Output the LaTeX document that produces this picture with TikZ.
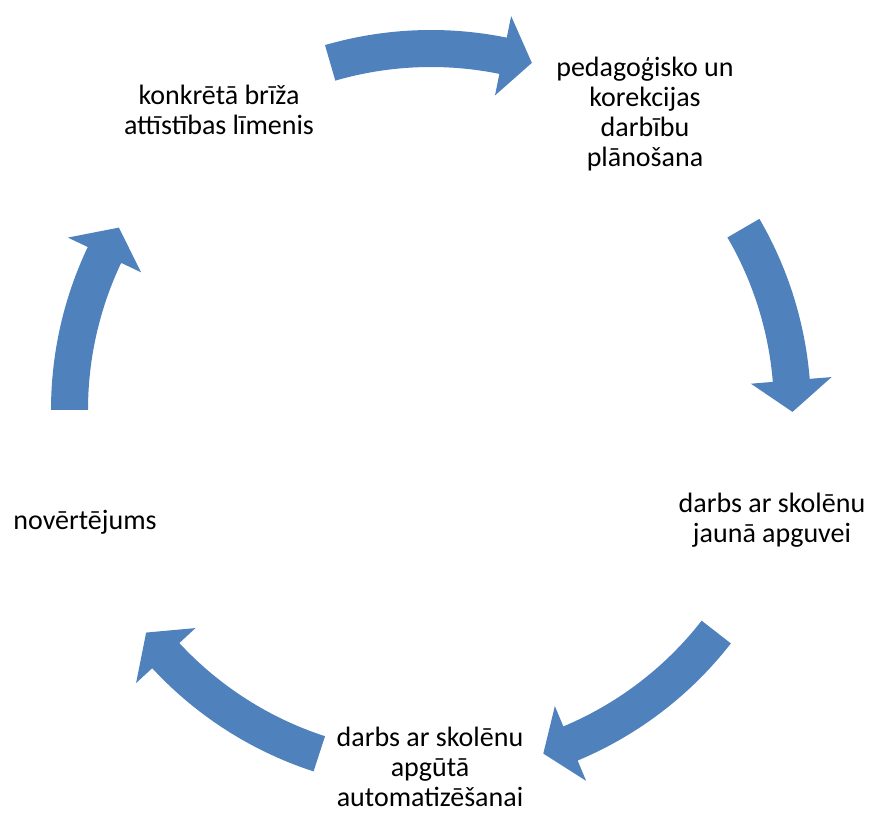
\documentclass[tikz,border=0pt]{standalone}
\usepackage{fontspec}
\setmainfont{Carlito}
\definecolor{arrowblue}{HTML}{4F81BD}
\newcommand{\cycarrow}[3]{%
  \fill[arrowfill] (#1:380pt) arc[start angle=#1, end angle=#2, radius=380pt]
    -- (#2:402pt) -- (#3:361.5pt) -- (#2:321pt) -- (#2:343pt)
    arc[start angle=#2, end angle=#1, radius=343pt] -- cycle;}
\begin{document}
\begin{tikzpicture}[x=1pt,y=1pt,
  arrowfill/.style={fill=arrowblue},
  lbl/.style={inner sep=0pt, anchor=base, font=\fontsize{28}{30}\selectfont}]
\useasboundingbox (0,0) rectangle (878,814);
\begin{scope}[shift={(431,404)}]
  \cycarrow{106.2}{78.5}{73.8}
  \cycarrow{30.2}{4.7}{-0.3}
  \cycarrow{-37.9}{-67.3}{-71.9}
  \cycarrow{252}{222.8}{218}
  \cycarrow{180}{154.6}{149.7}
\end{scope}
\node[lbl] (brizs) at (219,709) {\begin{tabular}[t]{@{}c@{}}konkrētā brīža\\attīstības līmenis\end{tabular}};
\node[lbl] (plan) at (645,737) {\begin{tabular}[t]{@{}c@{}}pedagoģisko un\\korekcijas\\darbību\\plānošana\end{tabular}};
\node[lbl] (jauna) at (772,301) {\begin{tabular}[t]{@{}c@{}}darbs ar skolēnu\\jaunā apguvei\end{tabular}};
\node[lbl] (apguta) at (430,67) {\begin{tabular}[t]{@{}c@{}}darbs ar skolēnu\\apgūtā\\automatizēšanai\end{tabular}};
\node[lbl] (vert) at (85,284) {novērtējums};
\end{tikzpicture}
\end{document}
